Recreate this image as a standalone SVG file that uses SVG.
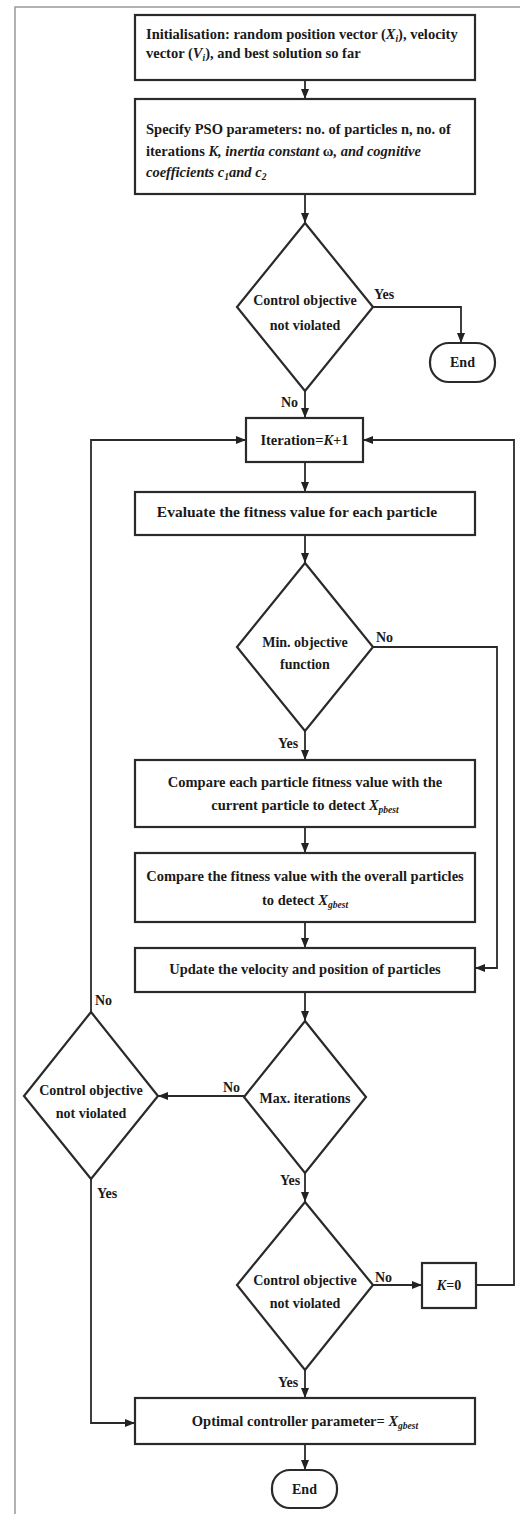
<svg xmlns="http://www.w3.org/2000/svg" width="520" height="1514" viewBox="0 0 520 1514">
<defs>
<marker id="ah" markerUnits="userSpaceOnUse" markerWidth="10" markerHeight="10" viewBox="0 0 10 10" refX="10" refY="5" orient="auto">
<path d="M0,1 L10,5 L0,9 Z" fill="#222"/>
</marker>
<style>
.box{fill:#fff;stroke:#2a2a2a;stroke-width:2.2}
.con{fill:none;stroke:#2a2a2a;stroke-width:1.8}
text{font-family:"Liberation Serif","Times New Roman",serif;font-weight:bold;fill:#1a1a1a}
.t{font-size:14.5px}
.c{font-size:14.5px;text-anchor:middle}
.e{font-size:15.5px;text-anchor:middle}
.d{font-size:14px;text-anchor:middle}
.l{font-size:14px}
.i{font-style:italic}
.s{font-size:9.5px;font-style:italic}
</style>
</defs>
<rect width="520" height="1514" fill="#fff"/>
<path d="M15,1514 V7 H520" fill="none" stroke="#999" stroke-width="1.5"/>

<g id="connectors">
<line class="con" x1="305" y1="80" x2="305" y2="99" marker-end="url(#ah)"/>
<line class="con" x1="305" y1="194" x2="305" y2="223" marker-end="url(#ah)"/>
<polyline class="con" points="373,307 461,307 461,343" marker-end="url(#ah)"/>
<line class="con" x1="305" y1="391" x2="305" y2="418" marker-end="url(#ah)"/>
<line class="con" x1="305" y1="462" x2="305" y2="492" marker-end="url(#ah)"/>
<line class="con" x1="305" y1="535" x2="305" y2="563" marker-end="url(#ah)"/>
<polyline class="con" points="373,647 497,647 497,968 475,968" marker-end="url(#ah)"/>
<line class="con" x1="305" y1="731" x2="305" y2="760" marker-end="url(#ah)"/>
<line class="con" x1="305" y1="827" x2="305" y2="853" marker-end="url(#ah)"/>
<line class="con" x1="305" y1="922" x2="305" y2="948" marker-end="url(#ah)"/>
<line class="con" x1="305" y1="992" x2="305" y2="1021" marker-end="url(#ah)"/>
<line class="con" x1="244" y1="1096" x2="158" y2="1096" marker-end="url(#ah)"/>
<polyline class="con" points="91,1012 91,440 246,440" marker-end="url(#ah)"/>
<polyline class="con" points="91,1179 91,1423 135,1423" marker-end="url(#ah)"/>
<line class="con" x1="305" y1="1173" x2="305" y2="1202" marker-end="url(#ah)"/>
<line class="con" x1="373" y1="1285" x2="422" y2="1285" marker-end="url(#ah)"/>
<polyline class="con" points="476,1285 514,1285 514,440 363,440" marker-end="url(#ah)"/>
<line class="con" x1="305" y1="1370" x2="305" y2="1398" marker-end="url(#ah)"/>
<line class="con" x1="305" y1="1444" x2="305" y2="1470" marker-end="url(#ah)"/>
<text class="l" x="374" y="299">Yes</text>
<text class="l" x="281" y="407">No</text>
<text class="l" x="376" y="642">No</text>
<text class="l" x="278" y="748">Yes</text>
<text class="l" x="223" y="1092">No</text>
<text class="l" x="95" y="1005">No</text>
<text class="l" x="97" y="1198">Yes</text>
<text class="l" x="280" y="1185">Yes</text>
<text class="l" x="375" y="1282">No</text>
<text class="l" x="278" y="1387">Yes</text>
</g>

<g id="init">
<rect class="box" x="135" y="15" width="340" height="65"/>
<text class="t" x="146" y="39">Initialisation: random position vector (<tspan class="i">X</tspan><tspan class="s" dy="3">i</tspan><tspan dy="-3">), velocity</tspan></text>
<text class="t" x="146" y="58">vector (<tspan class="i">V</tspan><tspan class="s" dy="3">i</tspan><tspan dy="-3">), and best solution so far</tspan></text>
</g>

<g id="params">
<rect class="box" x="135" y="99" width="340" height="95"/>
<text class="t" x="146" y="134">Specify PSO parameters: no. of particles n, no. of</text>
<text class="t" x="146" y="156">iterations <tspan class="i">K, inertia constant </tspan>ω<tspan class="i">, and cognitive</tspan></text>
<text class="t i" x="146" y="177">coefficients c<tspan class="s" dy="3">1</tspan><tspan dy="-3">and c</tspan><tspan class="s" dy="3">2</tspan></text>
</g>

<g id="dec1">
<polygon class="box" points="305,223 373,307 305,391 237,307"/>
<text class="d" x="305" y="305">Control objective</text>
<text class="d" x="305" y="330">not violated</text>
</g>

<g id="end1">
<rect class="box" x="430" y="343" width="65" height="39" rx="19"/>
<text class="d" x="462.5" y="367">End</text>
</g>

<g id="iter">
<rect class="box" x="246" y="418" width="117" height="44"/>
<text class="c" x="304.5" y="445">Iteration=<tspan class="i">K</tspan>+1</text>
</g>

<g id="evaluate">
<rect class="box" x="135" y="492" width="340" height="43"/>
<text class="e" x="297" y="517">Evaluate the fitness value for each particle</text>
</g>

<g id="dec2">
<polygon class="box" points="305,563 373,647 305,731 237,647"/>
<text class="d" x="305" y="647">Min. objective</text>
<text class="d" x="305" y="669">function</text>
</g>

<g id="pbest">
<rect class="box" x="135" y="760" width="340" height="67"/>
<text class="c" x="305" y="787">Compare each particle fitness value with the</text>
<text class="c" x="305" y="810">current particle to detect <tspan class="i">X</tspan><tspan class="s" dy="3">pbest</tspan></text>
</g>

<g id="gbest">
<rect class="box" x="135" y="853" width="340" height="69"/>
<text class="c" x="305" y="881">Compare the fitness value with the overall particles</text>
<text class="c" x="305" y="905">to detect <tspan class="i">X</tspan><tspan class="s" dy="3">gbest</tspan></text>
</g>

<g id="update">
<rect class="box" x="135" y="948" width="340" height="44"/>
<text class="c" x="305" y="974">Update the velocity and position of particles</text>
</g>

<g id="dec3">
<polygon class="box" points="305,1021 366,1097 305,1173 244,1097"/>
<text class="d" x="305" y="1103">Max. iterations</text>
</g>

<g id="dec4">
<polygon class="box" points="91,1012 158,1096 91,1179 24,1096"/>
<text class="d" x="91" y="1095">Control objective</text>
<text class="d" x="91" y="1118">not violated</text>
</g>

<g id="dec5">
<polygon class="box" points="305,1202 373,1285 305,1370 237,1285"/>
<text class="d" x="305" y="1285">Control objective</text>
<text class="d" x="305" y="1308">not violated</text>
</g>

<g id="k0">
<rect class="box" x="422" y="1263" width="54" height="45"/>
<text class="d" x="449" y="1290"><tspan class="i">K</tspan>=0</text>
</g>

<g id="optimal">
<rect class="box" x="135" y="1398" width="340" height="46"/>
<text class="c" x="305" y="1426">Optimal controller parameter= <tspan class="i">X</tspan><tspan class="s" dy="3">gbest</tspan></text>
</g>

<g id="end2">
<rect class="box" x="272" y="1470" width="65" height="38" rx="18"/>
<text class="d" x="304.5" y="1494">End</text>
</g>
</svg>
